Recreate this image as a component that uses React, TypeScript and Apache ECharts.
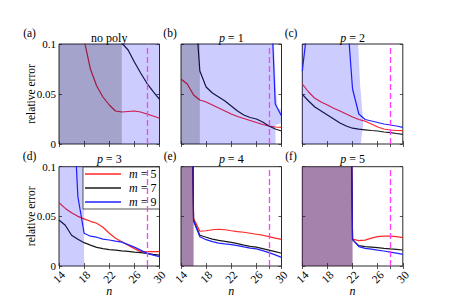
import React, { useEffect, useRef } from 'react';
import * as echarts from 'echarts';

const N = [14, 15, 16, 17, 18, 19, 20, 21, 22, 23, 24, 25, 26, 27, 28, 29, 30];
const X_TICKS = [14, 18, 22, 26, 28, 30];
const LEGEND_NAMES = ['m = 5', 'm = 7', 'm = 9'];
const TITLES = ['no poly', 'p = 1', 'p = 2', 'p = 3', 'p = 4', 'p = 5'];
const LETTERS = ['(a)', '(b)', '(c)', '(d)', '(e)', '(f)'];
const MARK_N = 28;

// panel (a) no poly
const aRed = [0.35, 0.26, 0.19, 0.14, 0.104, 0.075, 0.058, 0.047, 0.039, 0.033, 0.032, 0.0325, 0.033, 0.032, 0.030, 0.028, 0.0257];
const aBlack = [0.9, 0.8, 0.7, 0.6, 0.5, 0.42, 0.35, 0.28, 0.21, 0.14, 0.101, 0.094, 0.082, 0.071, 0.0607, 0.0523, 0.0447];
const aBlue = [0.9, 0.88, 0.86, 0.84, 0.82, 0.8, 0.78, 0.76, 0.74, 0.72, 0.7, 0.68, 0.66, 0.64, 0.62, 0.6, 0.58];
// panel (b) p = 1
const bRed = [0.065, 0.060, 0.049, 0.044, 0.042, 0.039, 0.036, 0.033, 0.030, 0.0275, 0.0255, 0.0235, 0.0215, 0.0195, 0.018, 0.017, 0.0167];
const bBlack = [0.5, 0.3, 0.16, 0.073, 0.057, 0.051, 0.047, 0.043, 0.038, 0.033, 0.029, 0.0265, 0.025, 0.022, 0.018, 0.015, 0.013];
const bBlue = [0.9, 0.85, 0.8, 0.75, 0.7, 0.65, 0.6, 0.55, 0.5, 0.45, 0.42, 0.39, 0.36, 0.33, 0.2, 0.04, 0.028];
// panel (c) p = 2
const cRed = [0.060, 0.052, 0.0457, 0.042, 0.039, 0.0357, 0.033, 0.030, 0.027, 0.0245, 0.0228, 0.020, 0.017, 0.015, 0.014, 0.0135, 0.0133];
const cBlack = [0.0497, 0.043, 0.037, 0.033, 0.029, 0.025, 0.021, 0.018, 0.0158, 0.0148, 0.0142, 0.0135, 0.013, 0.012, 0.0113, 0.0105, 0.0097];
const cBlue = [0.073, 0.127, 0.3, 0.4, 0.45, 0.45, 0.4, 0.14, 0.055, 0.030, 0.0245, 0.023, 0.0215, 0.020, 0.019, 0.018, 0.0167];
// panel (d) p = 3
const dRed = [0.0638, 0.058, 0.0537, 0.050, 0.0475, 0.045, 0.043, 0.039, 0.033, 0.028, 0.0245, 0.021, 0.0175, 0.0145, 0.0145, 0.0145, 0.0145];
const dBlack = [0.0463, 0.041, 0.031, 0.027, 0.0235, 0.021, 0.0188, 0.0175, 0.0165, 0.016, 0.0153, 0.0147, 0.014, 0.0134, 0.0127, 0.0118, 0.011];
const dBlue = [0.4, 0.3, 0.2, 0.07, 0.033, 0.030, 0.029, 0.027, 0.0262, 0.025, 0.024, 0.0215, 0.019, 0.016, 0.0127, 0.011, 0.0094];
// panel (e) p = 4
const eRed = [0.8, 0.6, 0.048, 0.035, 0.0355, 0.0365, 0.037, 0.0365, 0.0355, 0.0346, 0.034, 0.033, 0.032, 0.031, 0.0295, 0.028, 0.0268];
const eBlack = [0.8, 0.6, 0.046, 0.031, 0.029, 0.027, 0.0258, 0.0248, 0.0238, 0.0225, 0.021, 0.0198, 0.019, 0.0175, 0.016, 0.0145, 0.0128];
const eBlue = [0.8, 0.6, 0.045, 0.0295, 0.0265, 0.0245, 0.023, 0.0222, 0.0215, 0.0205, 0.0192, 0.018, 0.0172, 0.0155, 0.0135, 0.0112, 0.0087];
// panel (f) p = 5
const fRed = [0.9, 0.9, 0.9, 0.9, 0.9, 0.9, 0.8, 0.6, 0.027, 0.0255, 0.026, 0.028, 0.0295, 0.030, 0.030, 0.0295, 0.0285];
const fBlack = [0.9, 0.9, 0.9, 0.9, 0.9, 0.9, 0.8, 0.6, 0.0265, 0.0205, 0.0195, 0.019, 0.0185, 0.0178, 0.0172, 0.0167, 0.0161];
const fBlue = [0.9, 0.9, 0.9, 0.9, 0.9, 0.9, 0.8, 0.6, 0.0265, 0.0195, 0.0178, 0.017, 0.016, 0.0151, 0.014, 0.013, 0.0117];

// shaded regions (n, relative error)
const aShadeBlue = [[14, 0], [14, 0.1], [30, 0.1], [30, 0]];
const aShadeBlack = [[14, 0], [14, 0.1], [24, 0.1], [24, 0]];
const bShadeBlue = [[14, 0], [14, 0.1], [28.8, 0.1], [29.15, 0.05], [29.4, 0.036], [30, 0.034], [30, 0.021], [29.05, 0.019], [29.05, 0]];
const bShadeBlack = [[14, 0], [14, 0.1], [17, 0.1], [17, 0]];
const cShadeBlue = [[14, 0], [14, 0.1], [22.9, 0.1], [23.2, 0.06], [23.5, 0.037], [23.7, 0.02], [23.4, 0.005], [23.3, 0]];
const dShadeBlue = [[14, 0], [14, 0.1], [18, 0.1], [18, 0]];
const eShade = [[14, 0], [14, 0.1], [16, 0.1], [16, 0]];
const fShade = [[14, 0], [14, 0.1], [22, 0.1], [22, 0]];

const PANELS = [
  { red: aRed, black: aBlack, blue: aBlue, shades: [['blue', aShadeBlue], ['black', aShadeBlack]] },
  { red: bRed, black: bBlack, blue: bBlue, shades: [['blue', bShadeBlue], ['black', bShadeBlack]] },
  { red: cRed, black: cBlack, blue: cBlue, shades: [['blue', cShadeBlue]] },
  { red: dRed, black: dBlack, blue: dBlue, shades: [['blue', dShadeBlue]] },
  { red: eRed, black: eBlack, blue: eBlue, shades: [['red', eShade], ['blue', eShade], ['black', eShade]] },
  { red: fRed, black: fBlack, blue: fBlue, shades: [['red', fShade], ['blue', fShade], ['black', fShade]] },
];

const FONT = "'Liberation Serif', serif";
const LINE_COLORS = { red: '#ff2626', black: '#1a1a1a', blue: '#2222ff' };
const SHADE_COLORS = { red: 'rgba(255,0,0,0.2)', blue: 'rgba(0,0,255,0.2)', black: 'rgba(0,0,0,0.2)' };
const FRAME = '#2a2a2a';
const GRID_LEFT = [59, 181, 302.3];
const GRID_TOP = [44, 166.7];
const GRID_W = 100.5;
const GRID_H = [100, 99.3];
const LETTER_X = [29.5, 170, 291];

function buildOption() {
  const grid: any[] = [];
  const xAxis: any[] = [];
  const yAxis: any[] = [];
  const series: any[] = [];
  const graphic: any[] = [];

  PANELS.forEach((p, i) => {
    const col = i % 3;
    const row = Math.floor(i / 3);
    const left = GRID_LEFT[col];
    const top = GRID_TOP[row];
    grid.push({
      left, top, width: GRID_W, height: GRID_H[row],
      show: true, borderColor: FRAME, borderWidth: 1, backgroundColor: 'rgba(0,0,0,0)',
    });
    const bottomRow = row === 1;
    xAxis.push({
      type: 'value', gridIndex: i, min: 14, max: 30, position: 'bottom',
      axisLine: { show: false },
      axisTick: { show: true, inside: true, length: 3, customValues: X_TICKS, lineStyle: { color: FRAME, width: 0.8 } },
      axisLabel: {
        show: bottomRow, customValues: X_TICKS, rotate: 45, align: 'center', verticalAlign: 'middle', margin: 11,
        showMinLabel: true, showMaxLabel: true, hideOverlap: false,
        fontFamily: FONT, fontSize: 11.5, color: '#000',
      },
      splitLine: { show: false },
      name: bottomRow ? 'n' : '', nameLocation: 'middle', nameGap: 19, nameMoveOverlap: false,
      nameTextStyle: { fontFamily: FONT, fontStyle: 'italic', fontSize: 12, color: '#000' },
    });
    xAxis.push({
      type: 'value', gridIndex: i, min: 14, max: 30, position: 'top',
      axisLine: { show: false },
      axisTick: { show: true, inside: true, length: 3, customValues: X_TICKS, lineStyle: { color: FRAME, width: 0.8 } },
      axisLabel: { show: false },
      splitLine: { show: false },
    });
    const leftCol = col === 0;
    yAxis.push({
      type: 'value', gridIndex: i, min: 0, max: 0.1, interval: 0.05, position: 'left',
      axisLine: { show: false },
      axisTick: { show: true, inside: true, length: 3, lineStyle: { color: FRAME, width: 0.8 } },
      axisLabel: {
        show: leftCol, margin: 3, fontFamily: FONT, fontSize: 11, color: '#000',
        formatter: (v: number) => (v === 0 ? '0' : String(Number(v.toFixed(3)))),
      },
      splitLine: { show: false },
      name: leftCol ? 'relative error' : '', nameLocation: 'middle', nameGap: 22, nameMoveOverlap: false,
      nameTextStyle: { fontFamily: FONT, fontSize: 11.5, color: '#000' },
    });
    yAxis.push({
      type: 'value', gridIndex: i, min: 0, max: 0.1, interval: 0.05, position: 'right',
      axisLine: { show: false },
      axisTick: { show: true, inside: true, length: 3, lineStyle: { color: FRAME, width: 0.8 } },
      axisLabel: { show: false },
      splitLine: { show: false },
    });

    const xi = 2 * i;
    const lines: [string, number[]][] = [['red', p.red], ['black', p.black], ['blue', p.blue]];
    lines.forEach(([key, vals], k) => {
      const s: any = {
        type: 'line', name: LEGEND_NAMES[k], xAxisIndex: xi, yAxisIndex: xi,
        data: N.map((n, j) => [n, vals[j]]),
        showSymbol: false, symbol: 'none', clip: true, z: 2,
        lineStyle: { color: (LINE_COLORS as any)[key], width: 1.2 },
        itemStyle: { color: (LINE_COLORS as any)[key] },
      };
      if (k === 0) {
        s.markLine = {
          silent: true, symbol: ['none', 'none'], label: { show: false },
          lineStyle: { color: '#ff3cff', type: [6, 3], width: 1.3 },
          data: [{ xAxis: MARK_N }],
        };
      }
      series.push(s);
    });
    p.shades.forEach(([key, poly]: any) => {
      series.push({
        type: 'custom', xAxisIndex: xi, yAxisIndex: xi, clip: true, z: 3, silent: true,
        data: [[14, 0]],
        renderItem: (_params: any, api: any) => ({
          type: 'polygon',
          shape: { points: poly.map((pt: number[]) => api.coord(pt)) },
          style: { fill: (SHADE_COLORS as any)[key] },
        }),
      });
    });

    const cx = left + GRID_W / 2;
    const titleY = row === 0 ? 37.5 : 159;
    const title = TITLES[i];
    const m = title.match(/^p = (\d)$/);
    graphic.push({
      type: 'text', x: cx, y: titleY, silent: true,
      style: {
        text: m ? `{i|p} = ${m[1]}` : title,
        align: 'center', verticalAlign: 'middle', fontFamily: FONT, fontSize: 12, fill: '#000',
        rich: { i: { fontStyle: 'italic', fontFamily: FONT, fontSize: 12, fill: '#000' } },
      },
    });
    graphic.push({
      type: 'text', x: LETTER_X[col], y: row === 0 ? 32.5 : 156, silent: true,
      style: { text: LETTERS[i], align: 'center', verticalAlign: 'middle', fontFamily: FONT, fontSize: 11.5, fill: '#000' },
    });
  });

  return {
    animation: false,
    textStyle: { fontFamily: FONT },
    grid, xAxis, yAxis, series, graphic,
    legend: {
      data: LEGEND_NAMES, orient: 'vertical', left: 83, top: 167,
      backgroundColor: '#fff', borderColor: FRAME, borderWidth: 0.8,
      padding: [1, 3, 1, 2], itemGap: 2, itemWidth: 36, itemHeight: 1.5, icon: 'rect',
      selectedMode: false,
      formatter: (name: string) => `{i|m}${name.slice(1)}`,
      textStyle: {
        fontFamily: FONT, fontSize: 12, color: '#000', lineHeight: 12,
        rich: { i: { fontStyle: 'italic', fontFamily: FONT, fontSize: 12, color: '#000', lineHeight: 12, padding: [0, 0, 0, 3] } },
      },
    },
  };
}

export default function App() {
  const ref = useRef<HTMLDivElement>(null);
  useEffect(() => {
    if (!ref.current) return;
    const chart = echarts.init(ref.current, undefined, { renderer: 'svg' });
    chart.setOption(buildOption() as any);
    return () => chart.dispose();
  }, []);
  return (
    <div
      ref={ref}
      style={{ position: 'fixed', left: 0, top: 0, width: 449, height: 298, background: '#fff' }}
    />
  );
}
